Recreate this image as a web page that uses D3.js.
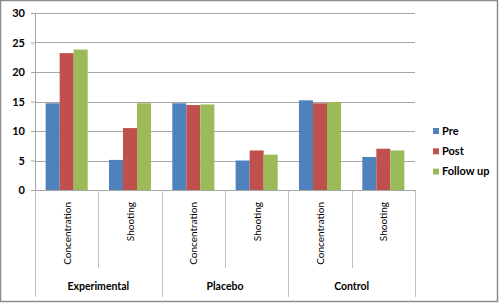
<!DOCTYPE html>
<html>
<head>
<meta charset="utf-8">
<script src="https://cdn.jsdelivr.net/npm/d3@7"></script>
<style>
  body { margin: 0; background: #fff; }
  text { font-family: Lato, "Open Sans", sans-serif; font-weight: bold; fill: #000; }
</style>
</head>
<body>
<div id="chart"></div>
<script>
const groups = ["Experimental", "Placebo", "Control"];
const measures = ["Concentration", "Shooting"];
const seriesNames = ["Pre", "Post", "Follow up"];
const pre = [14.7, 5.1, 14.7, 5.0, 15.2, 5.6];
const post = [23.2, 10.5, 14.4, 6.7, 14.7, 7.0];
const followUp = [23.8, 14.7, 14.5, 6.0, 14.9, 6.7];
const yTicks = [0, 5, 10, 15, 20, 25, 30];
const colors = ["#4F81BD", "#C0504D", "#9BBB59"];

const width = 499, height = 303;
const margin = {top: 13, right: 84, bottom: 113, left: 35};
const plotW = width - margin.left - margin.right;
const plotH = height - margin.top - margin.bottom;

// one row per group/measure pair
const cats = [];
groups.forEach(g => measures.forEach(m => cats.push({group: g, measure: m, key: g + "|" + m})));
const values = [pre, post, followUp];
const data = cats.map((c, i) => ({...c, vals: values.map(v => v[i])}));

const svg = d3.select("#chart").append("svg")
    .attr("width", width)
    .attr("height", height);

// outer frame
svg.append("rect")
    .attr("x", 0.5).attr("y", 0.5)
    .attr("width", width - 2).attr("height", height - 2)
    .attr("fill", "#fff")
    .attr("stroke", "#8c8c8c")
    .attr("stroke-width", 1.5);

const g = svg.append("g")
    .attr("transform", "translate(" + margin.left + "," + margin.top + ")");

const x = d3.scaleBand()
    .domain(cats.map(d => d.key))
    .range([0, plotW]);

const xInner = d3.scaleBand()
    .domain(seriesNames)
    .range([0, x.bandwidth()])
    .paddingOuter(0.76);

const y = d3.scaleLinear()
    .domain([0, 30])
    .range([plotH, 0]);

// gridlines
g.selectAll(".grid")
    .data(yTicks)
    .enter()
    .append("line")
    .attr("x1", 0).attr("x2", plotW)
    .attr("y1", d => Math.round(y(d)) + 0.5)
    .attr("y2", d => Math.round(y(d)) + 0.5)
    .attr("stroke", "#a6a6a6");

// y axis
const yAxis = g.append("g")
    .call(d3.axisLeft(y).tickValues(yTicks).tickSize(4).tickPadding(6));
yAxis.select(".domain").attr("stroke", "#a6a6a6");
yAxis.selectAll(".tick line").attr("stroke", "#a6a6a6");
yAxis.selectAll("text")
    .style("font-size", "11px")
    .style("font-family", "Lato, 'Open Sans', sans-serif")
    .style("font-weight", "bold");

// bars
const cat = g.selectAll(".cat")
    .data(data)
    .enter()
    .append("g")
    .attr("transform", d => "translate(" + x(d.key) + ",0)");

cat.selectAll("rect")
    .data(d => d.vals.map((v, i) => ({name: seriesNames[i], value: v, i: i})))
    .enter()
    .append("rect")
    .attr("x", d => xInner(d.name))
    .attr("width", xInner.bandwidth())
    .attr("y", d => y(d.value))
    .attr("height", d => plotH - y(d.value))
    .attr("fill", d => colors[d.i]);

// category dividers below the axis
const innerDepth = 78, outerDepth = 107;
const edges = cats.map(d => x(d.key)).concat([plotW]);
g.selectAll(".div")
    .data(edges)
    .enter()
    .append("line")
    .attr("x1", d => Math.round(d) + 0.5)
    .attr("x2", d => Math.round(d) + 0.5)
    .attr("y1", plotH)
    .attr("y2", (d, i) => i % 2 === 0 ? plotH + outerDepth : plotH + innerDepth)
    .attr("stroke", "#bfbfbf");

// measure labels (rotated)
g.selectAll(".mlabel")
    .data(data)
    .enter()
    .append("text")
    .attr("transform", d => "translate(" + (x(d.key) + x.bandwidth() / 2 + 4) + "," + (plotH + 12) + ") rotate(-90)")
    .attr("text-anchor", "end")
    .style("font-size", "10px")
    .style("font-weight", "normal")
    .text(d => d.measure);

// group labels
g.selectAll(".glabel")
    .data(groups)
    .enter()
    .append("text")
    .attr("x", (d, i) => x(d + "|" + measures[0]) + x.bandwidth())
    .attr("y", plotH + 100)
    .attr("text-anchor", "middle")
    .style("font-size", "10.5px")
    .text(d => d);

// legend
const legend = svg.append("g")
    .attr("transform", "translate(433,128)");
const item = legend.selectAll("g")
    .data(seriesNames)
    .enter()
    .append("g")
    .attr("transform", (d, i) => "translate(0," + i * 20.3 + ")");
item.append("rect")
    .attr("width", 6).attr("height", 6)
    .attr("fill", (d, i) => colors[i]);
item.append("text")
    .attr("x", 9).attr("y", 6.5)
    .style("font-size", "11px")
    .text(d => d);
</script>
</body>
</html>
